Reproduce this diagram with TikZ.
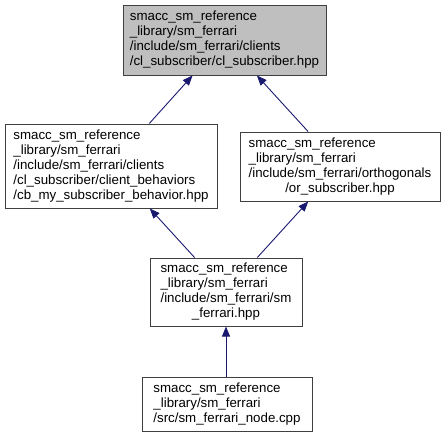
\documentclass[tikz,border=0pt]{standalone}
\usepackage{fontspec}
\setmainfont{Liberation Sans}
\usepackage{xcolor}
\usetikzlibrary{arrows.meta}
\definecolor{edgeblue}{HTML}{191970}
\definecolor{curfill}{HTML}{BFBFBF}
\definecolor{boxline}{HTML}{404040}
\tikzset{
  hdr/.style={draw=boxline,line width=1pt,fill=white,inner sep=0pt,
    font=\fontsize{13.3}{15}\selectfont},
  cur/.style={hdr,fill=curfill},
  inc/.style={draw=edgeblue,line width=0.9pt,-{Triangle[length=10pt,width=8pt]}}
}
\newcommand{\hdrtxt}[2]{\begin{tabular}{@{}l@{}}#1\multicolumn{1}{@{}c@{}}{#2}\end{tabular}}

\begin{document}
\begin{tikzpicture}[x=1pt,y=-1pt]
\useasboundingbox (0,0) rectangle (445,437);
\node[cur,minimum width=203pt,minimum height=70pt] (clsub) at (224.5,40)
  {\hdrtxt{smacc\_sm\_reference\\\_library/sm\_ferrari\\/include/sm\_ferrari/clients\\}{/cl\_subscriber/cl\_subscriber.hpp}};
\node[hdr,minimum width=212pt,minimum height=84pt] (cbbeh) at (111,166)
  {\hdrtxt{smacc\_sm\_reference\\\_library/sm\_ferrari\\/include/sm\_ferrari/clients\\/cl\_subscriber/client\_behaviors\\}{/cb\_my\_subscriber\_behavior.hpp}};
\node[hdr,minimum width=200pt,minimum height=69pt] (orsub) at (340,166.5)
  {\hdrtxt{smacc\_sm\_reference\\\_library/sm\_ferrari\\/include/sm\_ferrari/orthogonals\\}{/or\_subscriber.hpp}};
\node[hdr,minimum width=152pt,minimum height=68pt] (smfer) at (226,292)
  {\hdrtxt{smacc\_sm\_reference\\\_library/sm\_ferrari\\/include/sm\_ferrari/sm\\}{\_ferrari.hpp}};
\node[hdr,minimum width=170pt,minimum height=54pt] (fnode) at (227,404)
  {\hdrtxt{smacc\_sm\_reference\\\_library/sm\_ferrari\\}{/src/sm\_ferrari\_node.cpp}};
\draw[inc] (cbbeh) -- (clsub);
\draw[inc] (orsub) -- (clsub);
\draw[inc] (smfer) -- (cbbeh);
\draw[inc] (smfer) -- (orsub);
\draw[inc] (fnode.north -| smfer) -- (smfer);
\end{tikzpicture}
\end{document}
